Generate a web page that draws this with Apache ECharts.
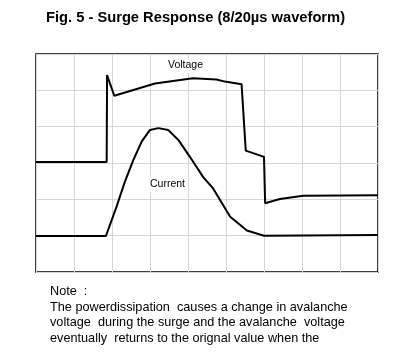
<!DOCTYPE html>
<html>
<head>
<meta charset="utf-8">
<script src="https://cdn.jsdelivr.net/npm/echarts@6/dist/echarts.min.js"></script>
<style>
  html, body { margin: 0; padding: 0; background: #fff; }
  #main { width: 408px; height: 354px; }
</style>
</head>
<body>
<div id="main"></div>
<script>
// time in grid divisions, level in grid divisions
const voltageT = [0, 1.86, 1.87, 2.06, 3.13, 4.13, 4.75, 4.97, 5.41, 5.52, 6.0, 6.03, 6.42, 7.03, 9];
const voltageV = [3.03, 3.03, 5.42, 4.85, 5.19, 5.33, 5.30, 5.24, 5.17, 3.34, 3.17, 1.89, 2.01, 2.10, 2.11];
const currentT = [0, 1.84, 2.12, 2.34, 2.56, 2.78, 3.0, 3.22, 3.48, 3.75, 4.05, 4.40, 4.66, 5.11, 5.55, 6.0, 9];
const currentI = [0.99, 0.99, 1.80, 2.49, 3.08, 3.59, 3.91, 3.96, 3.91, 3.63, 3.17, 2.61, 2.30, 1.52, 1.14, 1.0, 1.02];

const titleText = 'Fig. 5 - Surge Response (8/20\u00b5s waveform)';
const noteLines = [
  'Note  :',
  'The powerdissipation  causes a change in avalanche',
  'voltage  during the surge and the avalanche  voltage',
  'eventually  returns to the orignal value when the'
];

const zip = (a, b) => a.map((v, i) => [v, b[i]]);

const chart = echarts.init(document.getElementById('main'));
const font = '"Liberation Sans", Arial, sans-serif';

const noteGraphics = noteLines.map((t, i) => ({
  type: 'text',
  left: 50,
  top: 285 + i * 15.5,
  style: { text: t, font: '12.7px ' + font, fill: '#000' }
}));

chart.setOption({
  animation: false,
  title: {
    text: titleText,
    left: 41,
    top: 5,
    textStyle: { fontFamily: font, fontSize: 14.7, fontWeight: 'bold', color: '#000' }
  },
  grid: {
    left: 36, top: 54, width: 342, height: 218,
    show: true, borderColor: '#000', borderWidth: 1.5
  },
  xAxis: {
    type: 'value', min: 0, max: 9, interval: 1,
    axisLine: { show: false }, axisTick: { show: false }, axisLabel: { show: false },
    splitLine: { lineStyle: { color: '#d6d6d6', width: 1 } }
  },
  yAxis: {
    type: 'value', min: 0, max: 6, interval: 1,
    axisLine: { show: false }, axisTick: { show: false }, axisLabel: { show: false },
    splitLine: { lineStyle: { color: '#d6d6d6', width: 1 } }
  },
  series: [
    {
      name: 'Voltage', type: 'line', data: zip(voltageT, voltageV),
      symbol: 'none', lineStyle: { color: '#000', width: 2 }
    },
    {
      name: 'Current', type: 'line', data: zip(currentT, currentI),
      symbol: 'none', lineStyle: { color: '#000', width: 2 }
    }
  ],
  graphic: [
    { type: 'text', left: 166, top: 58, z: 100, style: { text: 'Voltage', font: '10.5px ' + font, fill: '#000', backgroundColor: '#fff', padding: [2, 2] } },
    { type: 'text', left: 148, top: 177, z: 100, style: { text: 'Current', font: '10.5px ' + font, fill: '#000', backgroundColor: '#fff', padding: [2, 2] } }
  ].concat(noteGraphics)
});
</script>
</body>
</html>
